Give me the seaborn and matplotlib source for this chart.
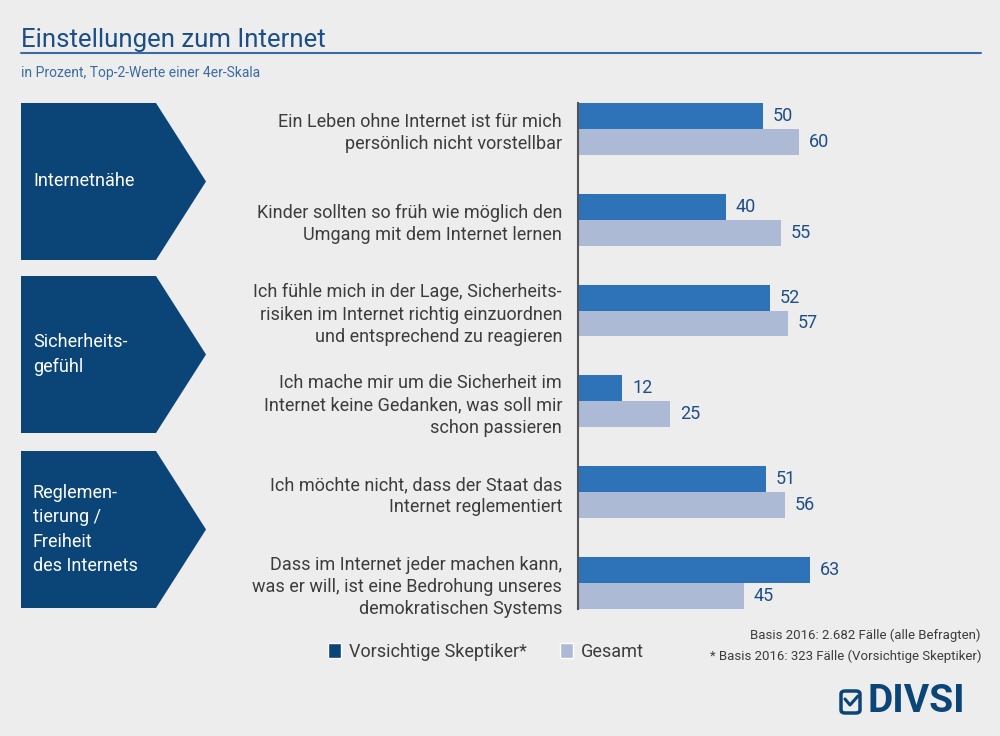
import matplotlib
matplotlib.use('Agg')
import matplotlib.pyplot as plt
import matplotlib.patches as mpatches
from matplotlib.lines import Line2D
import pandas as pd
import seaborn as sns

# data
aussagen = ['Ein Leben ohne Internet ist für mich\npersönlich nicht vorstellbar',
            'Kinder sollten so früh wie möglich den\nUmgang mit dem Internet lernen',
            'Ich fühle mich in der Lage, Sicherheits-\nrisiken im Internet richtig einzuordnen\nund entsprechend zu reagieren',
            'Ich mache mir um die Sicherheit im\nInternet keine Gedanken, was soll mir\nschon passieren',
            'Ich möchte nicht, dass der Staat das\nInternet reglementiert',
            'Dass im Internet jeder machen kann,\nwas er will, ist eine Bedrohung unseres\ndemokratischen Systems']
skeptiker = [50, 40, 52, 12, 51, 63]
gesamt = [60, 55, 57, 25, 56, 45]
gruppen = ['Vorsichtige Skeptiker*', 'Gesamt']
bereiche = ['Internetnähe', 'Sicherheits-\ngefühl', 'Reglemen-\ntierung /\nFreiheit\ndes Internets']

BG = '#ededed'
DARK = '#2e72b8'
LIGHT = '#adbad6'
NAVY = '#0b4477'
TXT = '#3c3c3c'
VAL = '#1f4e85'

df = pd.DataFrame({
    'Aussage': aussagen * 2,
    'Gruppe': [gruppen[0]] * 6 + [gruppen[1]] * 6,
    'Wert': skeptiker + gesamt,
})

sns.set_theme(style='white')
plt.rcParams['font.family'] = ['Roboto', 'DejaVu Sans']

fig = plt.figure(figsize=(10, 7.36), dpi=100, facecolor=BG)
ax = fig.add_axes([0.578, 0.1726, 0.369, 0.6875])
ax.set_facecolor(BG)

sns.barplot(data=df, y='Aussage', x='Wert', hue='Gruppe', orient='h',
            palette=[DARK, LIGHT], saturation=1, width=0.57, linewidth=0,
            legend=False, ax=ax)

for cont in ax.containers:
    ax.bar_label(cont, padding=7, fontsize=13, color=VAL)

ax.set_xlim(0, 100)
ax.set_ylim(5.285, -0.285)
ax.set_xlabel('')
ax.set_ylabel('')
ax.set_xticks([])
for s in ['top', 'right', 'bottom']:
    ax.spines[s].set_visible(False)
ax.spines['left'].set_color('#555555')
ax.spines['left'].set_linewidth(1.5)
ax.tick_params(axis='y', length=0, pad=11.5, labelsize=13, labelcolor=TXT)
for lbl in ax.get_yticklabels():
    lbl.set_linespacing(1.3)

# title and subtitle
fig.text(0.021, 0.945, 'Einstellungen zum Internet', fontsize=18.5, color='#1b4e86', va='center')
fig.add_artist(Line2D([0.021, 0.981], [0.928, 0.928], color='#3a6ca3', lw=1.5))
fig.text(0.021, 0.901, 'in Prozent, Top-2-Werte einer 4er-Skala', fontsize=10, color='#3a6ca3', va='center')

# arrow blocks on the left
W, H = 1000, 736
blocks = [(103, 260), (276, 433), (451, 608)]
for (y0, y1), name in zip(blocks, bereiche):
    ym = (y0 + y1) / 2
    pts = [(21, y0), (156, y0), (206, ym), (156, y1), (21, y1)]
    poly = mpatches.Polygon([(x / W, 1 - y / H) for x, y in pts], closed=True,
                            facecolor=NAVY, edgecolor='none', transform=fig.transFigure)
    fig.add_artist(poly)
    fig.text(33 / W, 1 - ym / H, name, color='white', fontsize=13, va='center', ha='left',
             linespacing=1.45)

# legend
handles = [mpatches.Patch(facecolor=NAVY, label=gruppen[0]),
           mpatches.Patch(facecolor=LIGHT, label=gruppen[1])]
leg = fig.legend(handles=handles, loc='center', bbox_to_anchor=(0.486, 1 - 652 / H), ncol=2,
                 frameon=False, fontsize=13, handlelength=0.75, handleheight=0.9,
                 handletextpad=0.45, columnspacing=1.8, labelcolor=TXT)

# footnote
fig.text(0.981, 1 - 635 / H, 'Basis 2016: 2.682 Fälle (alle Befragten)', fontsize=9.5,
         color=TXT, ha='right', va='center')
fig.text(0.981, 1 - 656 / H, '* Basis 2016: 323 Fälle (Vorsichtige Skeptiker)', fontsize=9.5,
         color=TXT, ha='right', va='center')

# logo
box = mpatches.FancyBboxPatch((841 / W, 1 - 713 / H), 19 / W, 22 / H,
                              boxstyle='round,pad=0,rounding_size=0.004',
                              facecolor='none', edgecolor=NAVY, lw=2.5, transform=fig.transFigure)
fig.add_artist(box)
fig.add_artist(Line2D([845 / W, 850 / W, 858 / W], [1 - 699 / H, 1 - 705 / H, 1 - 696 / H],
                      color=NAVY, lw=2.2, transform=fig.transFigure))
fig.text(0.867, 1 - 702 / H, 'DIVSI', fontsize=28, fontweight='bold', color=NAVY,
         ha='left', va='center')

plt.savefig('out.png', dpi=100, facecolor=BG)
